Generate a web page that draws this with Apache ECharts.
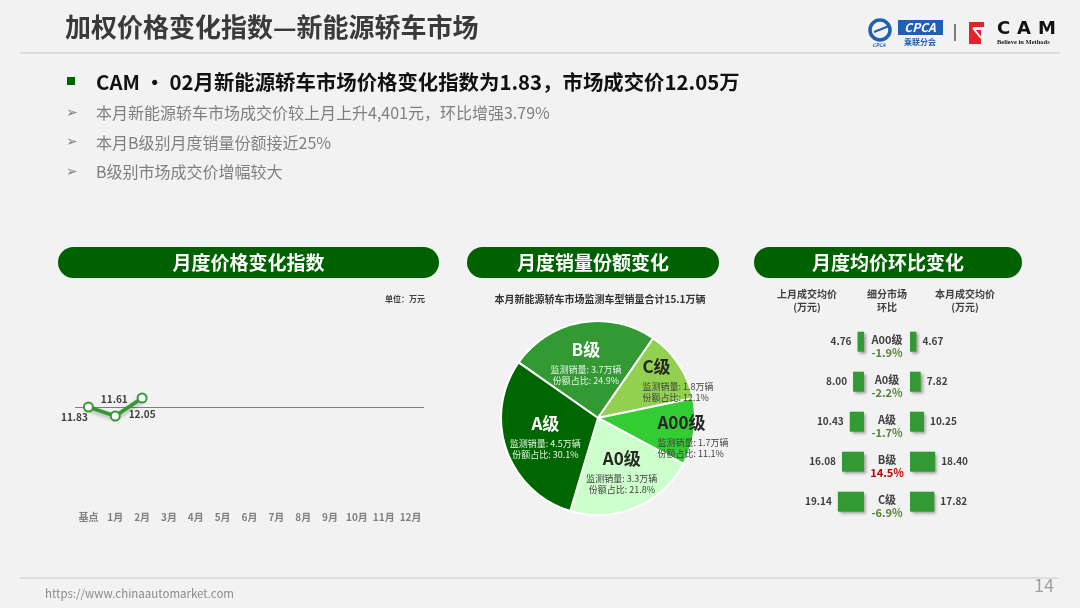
<!DOCTYPE html>
<html>
<head>
<meta charset="utf-8">
<script src="https://cdn.jsdelivr.net/npm/echarts@6/dist/echarts.min.js"></script>
<style>
  html, body { margin: 0; padding: 0; background: #f2f2f2; }
  #main { width: 1080px; height: 608px; }
</style>
</head>
<body>
<div id="main"></div>
<script>
const FONT = '"Noto Sans CJK SC", "Noto Sans", sans-serif'

// 月度价格变化指数
const months = ['基点', '1月', '2月', '3月', '4月', '5月', '6月', '7月', '8月', '9月', '10月', '11月', '12月']
const priceIndex = [11.83, 11.61, 12.05]
const baseValue = 11.83

// 月度销量份额变化
const segNames = ['B级', 'C级', 'A00级', 'A0级', 'A级']
const segVolume = [3.7, 1.8, 1.7, 3.3, 4.5]
const segShare = [24.9, 12.1, 11.1, 21.8, 30.1]

// 月度均价环比变化
const classNames = ['A00级', 'A0级', 'A级', 'B级', 'C级']
const lastPrice = [4.76, 8.00, 10.43, 16.08, 19.14]
const thisPrice = [4.67, 7.82, 10.25, 18.40, 17.82]
const momChange = ['-1.9%', '-2.2%', '-1.7%', '14.5%', '-6.9%']

// styling only
const segColors = ['#339933', '#92d050', '#33cc33', '#ccffcc', '#006600']
const segDark = [true, false, false, false, true]
const segShift = [[-3, -7], [37, -12], [44, 8], [4, 4], [-4, 0]]
const segAlign = ['center', 'left', 'left', 'center', 'center']
const pointLabelPos = ['bottom', 'top', 'bottom']
const pointLabelOff = [[-14, -5], [-1, -1], [0, 1]]

const chart = echarts.init(document.getElementById('main'), null, { width: 1080, height: 608 })

function pill(x, w, text) {
  return [
    { type: 'rect', shape: { x: x, y: 247, width: w, height: 31, r: 15.5 }, style: { fill: '#006100' } },
    { type: 'text', x: x + w / 2, y: 262.5, style: { text: text, fill: '#fff', font: 'bold 19px ' + FONT, align: 'center', verticalAlign: 'middle' } }
  ]
}

const subBullets = ['本月新能源轿车市场成交价较上月上升4,401元，环比增强3.79%', '本月B级别月度销量份额接近25%', 'B级别市场成交价增幅较大']

const graphics = [
  { type: 'text', x: 65, y: 27, style: { text: '加权价格变化指数—新能源轿车市场', fill: '#3a3a3a', font: 'bold 26px ' + FONT, verticalAlign: 'middle' } },
  { type: 'line', shape: { x1: 20, y1: 53, x2: 1060, y2: 53 }, style: { stroke: '#d6d6d6', lineWidth: 1.5 } },
  { type: 'rect', shape: { x: 67, y: 77, width: 8, height: 8 }, style: { fill: '#006600' } },
  { type: 'text', x: 96, y: 82, style: { text: 'CAM • 02月新能源轿车市场价格变化指数为1.83，市场成交价12.05万', fill: '#111', font: 'bold 20.4px ' + FONT, verticalAlign: 'middle' } },
  // logos
  { type: 'circle', shape: { cx: 880, cy: 30, r: 10 }, style: { fill: 'none', stroke: '#1f5fb4', lineWidth: 3.5 } },
  { type: 'line', shape: { x1: 874, y1: 32, x2: 889, y2: 26 }, style: { stroke: '#1f5fb4', lineWidth: 2 } },
  { type: 'text', x: 879, y: 43, style: { text: 'CPCA', fill: '#1f5fb4', font: 'italic bold 5px ' + FONT, align: 'center' } },
  { type: 'rect', shape: { x: 898, y: 20, width: 45, height: 15 }, style: { fill: '#1f5fb4' } },
  { type: 'text', x: 920, y: 27.5, style: { text: 'CPCA', fill: '#fff', font: 'italic bold 12px ' + FONT, align: 'center', verticalAlign: 'middle' } },
  { type: 'text', x: 920, y: 42, style: { text: '乘联分会', fill: '#1f5fb4', font: 'bold 8px ' + FONT, align: 'center', verticalAlign: 'middle' } },
  { type: 'line', shape: { x1: 955, y1: 24, x2: 955, y2: 41 }, style: { stroke: '#555', lineWidth: 1.5 } },
  { type: 'rect', shape: { x: 969, y: 22, width: 15, height: 22 }, style: { fill: '#e8202a' } },
  { type: 'polygon', shape: { points: [[973, 27], [984, 27], [984, 44], [981, 44], [981, 30], [973, 30]] }, style: { fill: '#fff' } },
  { type: 'line', shape: { x1: 973, y1: 28, x2: 981, y2: 38 }, style: { stroke: '#fff', lineWidth: 2 } },
  { type: 'text', x: 997, y: 29, style: { text: 'C', fill: '#111', font: 'bold 18px "DejaVu Sans"', verticalAlign: 'middle' } },
  { type: 'text', x: 1017, y: 29, style: { text: 'A', fill: '#111', font: 'bold 18px "DejaVu Sans"', verticalAlign: 'middle' } },
  { type: 'text', x: 1038, y: 29, style: { text: 'M', fill: '#111', font: 'bold 18px "DejaVu Sans"', verticalAlign: 'middle' } },
  { type: 'text', x: 997, y: 42, style: { text: 'Believe in Methods', fill: '#222', font: 'bold 6.5px serif', verticalAlign: 'middle' } },
  // footer
  { type: 'line', shape: { x1: 20, y1: 578, x2: 1058, y2: 578 }, style: { stroke: '#d6d6d6', lineWidth: 1.5 } },
  { type: 'text', x: 45, y: 594, style: { text: 'https://www.chinaautomarket.com', fill: '#8c8c8c', font: '11.5px ' + FONT, verticalAlign: 'middle' } },
  { type: 'text', x: 1054, y: 585, style: { text: '14', fill: '#a0a0a0', font: '18px ' + FONT, align: 'right', verticalAlign: 'middle' } },
  // panel texts
  { type: 'text', x: 425, y: 299, style: { text: '单位：万元', fill: '#404040', font: 'bold 8px ' + FONT, align: 'right', verticalAlign: 'middle' } },
  { type: 'text', x: 600, y: 299, style: { text: '本月新能源轿车市场监测车型销量合计15.1万辆', fill: '#333', font: 'bold 10px ' + FONT, align: 'center', verticalAlign: 'middle' } },
  { type: 'text', x: 807, y: 301, style: { text: '上月成交均价\n(万元)', fill: '#404040', font: 'bold 10px ' + FONT, align: 'center', verticalAlign: 'middle', lineHeight: 13 } },
  { type: 'text', x: 887, y: 301, style: { text: '细分市场\n环比', fill: '#404040', font: 'bold 10px ' + FONT, align: 'center', verticalAlign: 'middle', lineHeight: 13 } },
  { type: 'text', x: 965, y: 301, style: { text: '本月成交均价\n(万元)', fill: '#404040', font: 'bold 10px ' + FONT, align: 'center', verticalAlign: 'middle', lineHeight: 13 } }
]
subBullets.forEach(function (t, i) {
  graphics.push({ type: 'text', x: 66, y: 113 + i * 29.5, style: { text: '➢', fill: '#7f7f7f', font: '14px "DejaVu Sans"', verticalAlign: 'middle' } })
  graphics.push({ type: 'text', x: 96, y: 113 + i * 29.5, style: { text: t, fill: '#7f7f7f', font: '16px ' + FONT, verticalAlign: 'middle' } })
})
pill(58, 381, '月度价格变化指数').forEach(g => graphics.push(g))
pill(467, 252, '月度销量份额变化').forEach(g => graphics.push(g))
pill(754, 268, '月度均价环比变化').forEach(g => graphics.push(g))

const barShadow = { shadowColor: 'rgba(0,0,0,0.35)', shadowBlur: 3, shadowOffsetX: 2, shadowOffsetY: 2 }
const valueLabel = { show: true, fontFamily: FONT, fontWeight: 'bold', fontSize: 10, color: '#404040', distance: 6 }

const option = {
  backgroundColor: '#f2f2f2',
  animation: false,
  textStyle: { fontFamily: FONT },
  graphic: graphics,
  grid: [
    { left: 75, width: 349, top: 297.8, height: 204.5 },
    { left: 823, width: 41, top: 321.7, height: 200 },
    { left: 910, width: 41, top: 321.7, height: 200 }
  ],
  xAxis: [
    { gridIndex: 0, type: 'category', data: months, axisLine: { show: false }, axisTick: { show: false },
      axisLabel: { margin: 10, color: '#808080', fontSize: 10, fontWeight: 'bold', fontFamily: FONT, interval: 0 } },
    { gridIndex: 1, type: 'value', min: 0, max: 30, inverse: true, show: false },
    { gridIndex: 2, type: 'value', min: 0, max: 30, show: false }
  ],
  yAxis: [
    { gridIndex: 0, type: 'value', min: 9.5, max: 14.5, show: false },
    { gridIndex: 1, type: 'category', data: classNames, inverse: true, show: false },
    { gridIndex: 2, type: 'category', data: classNames, inverse: true,
      axisLine: { show: false }, axisTick: { show: false },
      axisLabel: {
        margin: 23, align: 'center', padding: [9, 0, 0, 0],
        formatter: function (v, i) {
          const c = momChange[i]
          return '{n|' + v + '}\n{' + (c.charAt(0) === '-' ? 'd' : 'u') + '|' + c + '}'
        },
        rich: {
          n: { fontFamily: FONT, fontSize: 11, fontWeight: 'bold', color: '#404040', lineHeight: 14, align: 'center' },
          d: { fontFamily: FONT, fontSize: 11, fontWeight: 'bold', color: '#548235', lineHeight: 13, align: 'center' },
          u: { fontFamily: FONT, fontSize: 11, fontWeight: 'bold', color: '#c00000', lineHeight: 13, align: 'center' }
        }
      } }
  ],
  series: [
    {
      type: 'line', xAxisIndex: 0, yAxisIndex: 0,
      data: priceIndex.map(function (v, i) {
        return { value: v, label: { position: pointLabelPos[i], offset: pointLabelOff[i] } }
      }),
      symbol: 'circle', symbolSize: 9,
      itemStyle: { color: '#fff', borderColor: '#339933', borderWidth: 2 },
      lineStyle: { color: '#339933', width: 3.5, shadowColor: 'rgba(0,0,0,0.3)', shadowBlur: 4, shadowOffsetY: 2 },
      label: { show: true, fontFamily: FONT, fontSize: 10, fontWeight: 'bold', color: '#404040' },
      markLine: {
        silent: true, symbol: 'none', label: { show: false },
        lineStyle: { color: '#7f7f7f', width: 1.2, type: 'solid' },
        data: [{ yAxis: baseValue }]
      },
      z: 5
    },
    {
      type: 'pie', center: [598, 418], radius: 97, startAngle: 145, clockwise: true,
      avoidLabelOverlap: false,
      data: segNames.map(function (n, i) {
        const dark = segDark[i]
        const al = segAlign[i]
        return {
          name: n, value: segShare[i],
          itemStyle: { color: segColors[i] },
          label: {
            formatter: '{t|' + n + '}\n{s|监测销量: ' + segVolume[i].toFixed(1) + '万辆}\n{s|份额占比: ' + segShare[i].toFixed(1) + '%}',
            rich: {
              t: { fontFamily: FONT, fontSize: 17, fontWeight: 'bold', color: dark ? '#fff' : '#262626', lineHeight: 29, align: al },
              s: { fontFamily: FONT, fontSize: 9, color: dark ? '#e8f5e8' : '#404040', lineHeight: 11, align: al }
            }
          }
        }
      }),
      itemStyle: { borderColor: '#fff', borderWidth: 2 },
      label: { show: true, position: 'inside', overflow: 'none' },
      labelLine: { show: false },
      labelLayout: function (p) {
        const s = segShift[p.dataIndex]
        return { dx: s[0], dy: s[1], hideOverlap: false }
      }
    },
    {
      type: 'bar', xAxisIndex: 1, yAxisIndex: 1, data: lastPrice, barWidth: 20,
      itemStyle: Object.assign({ color: '#339933' }, barShadow),
      label: Object.assign({ position: 'left', formatter: function (p) { return p.value.toFixed(2) } }, valueLabel)
    },
    {
      type: 'bar', xAxisIndex: 2, yAxisIndex: 2, data: thisPrice, barWidth: 20,
      itemStyle: Object.assign({ color: '#339933' }, barShadow),
      label: Object.assign({ position: 'right', formatter: function (p) { return p.value.toFixed(2) } }, valueLabel)
    }
  ]
}
chart.setOption(option)
</script>
</body>
</html>
